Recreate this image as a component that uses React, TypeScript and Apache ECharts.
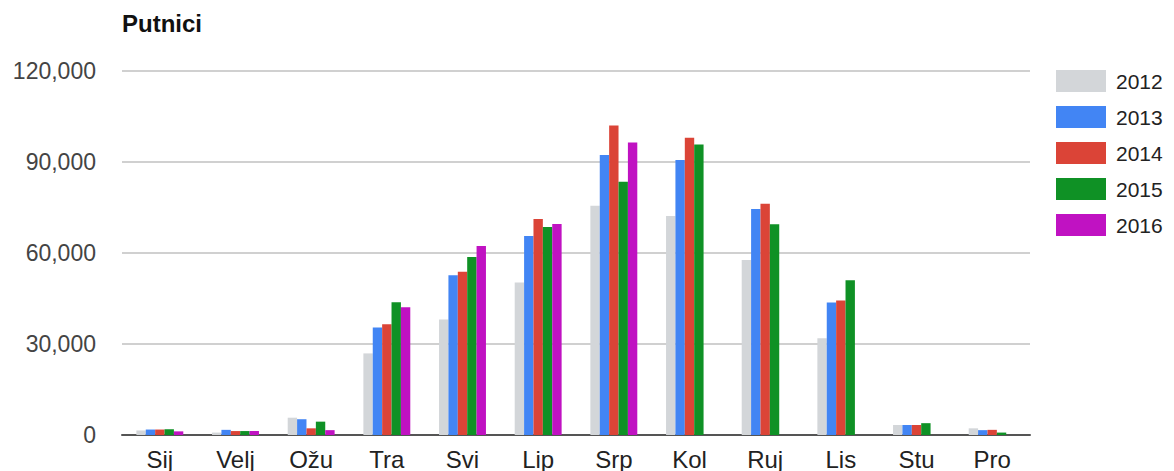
import React, { useEffect, useRef } from "react";
import * as echarts from "echarts";

const months = ["Sij", "Velj", "Ožu", "Tra", "Svi", "Lip", "Srp", "Kol", "Ruj", "Lis", "Stu", "Pro"];
const years = ["2012", "2013", "2014", "2015", "2016"];
const v2012 = [1500, 800, 5700, 26900, 38100, 50300, 75600, 72200, 57700, 31900, 3300, 2200];
const v2013 = [1800, 1700, 5200, 35400, 52700, 65600, 92300, 90700, 74500, 43700, 3300, 1600];
const v2014 = [1800, 1300, 2200, 36500, 53800, 71200, 102000, 98000, 76200, 44300, 3300, 1700];
const v2015 = [1900, 1300, 4400, 43800, 58700, 68600, 83500, 95800, 69500, 51000, 3900, 800];
const v2016 = [1200, 1300, 1600, 42100, 62300, 69600, 96400, null, null, null, null, null];
const yTicks = [0, 30000, 60000, 90000, 120000];
const colors = ["#d3d6d9", "#4285f4", "#db4437", "#0f9125", "#c012c2"];

const FONT = "'Liberation Sans', Arial, sans-serif";

export default function App() {
  const ref = useRef<HTMLDivElement>(null);
  useEffect(() => {
    if (!ref.current) return;
    const chart = echarts.init(ref.current, null, { renderer: "svg" });
    const all = [v2012, v2013, v2014, v2015, v2016];
    chart.setOption({
      animation: false,
      title: {
        text: "Putnici",
        left: 117,
        top: 6,
        textStyle: { fontFamily: FONT, fontSize: 24, fontWeight: "bold", color: "#111" },
      },
      color: colors,
      legend: {
        orient: "vertical",
        left: 1056,
        top: 70,
        padding: 0,
        icon: "rect",
        itemWidth: 50,
        itemHeight: 22,
        itemGap: 14,
        data: years,
        textStyle: { fontFamily: FONT, fontSize: 21, color: "#222", padding: [0, 0, 0, 5] },
      },
      grid: { left: 122, right: 144, top: 71, bottom: 36, containLabel: false },
      xAxis: {
        type: "category",
        data: months,
        axisTick: { show: false },
        axisLine: { lineStyle: { color: "#555", width: 2 } },
        axisLabel: { fontFamily: FONT, fontSize: 24, color: "#222", margin: 12 },
      },
      yAxis: {
        type: "value",
        min: yTicks[0],
        max: yTicks[yTicks.length - 1],
        interval: 30000,
        axisLine: { show: false },
        axisTick: { show: false },
        splitLine: { lineStyle: { color: "#d0d0d0", width: 2 } },
        axisLabel: {
          fontFamily: FONT,
          fontSize: 23,
          color: "#444",
          margin: 26,
          formatter: (v: number) => v.toLocaleString("en-US"),
        },
      },
      series: years.map((y, i) => ({
        name: y,
        type: "bar",
        data: all[i],
        barGap: "0%",
        barCategoryGap: "38%",
        itemStyle: { color: colors[i] },
      })),
    });
    return () => chart.dispose();
  }, []);
  return (
    <div
      ref={ref}
      style={{ position: "absolute", left: 0, top: 0, width: 1174, height: 471 }}
    />
  );
}
